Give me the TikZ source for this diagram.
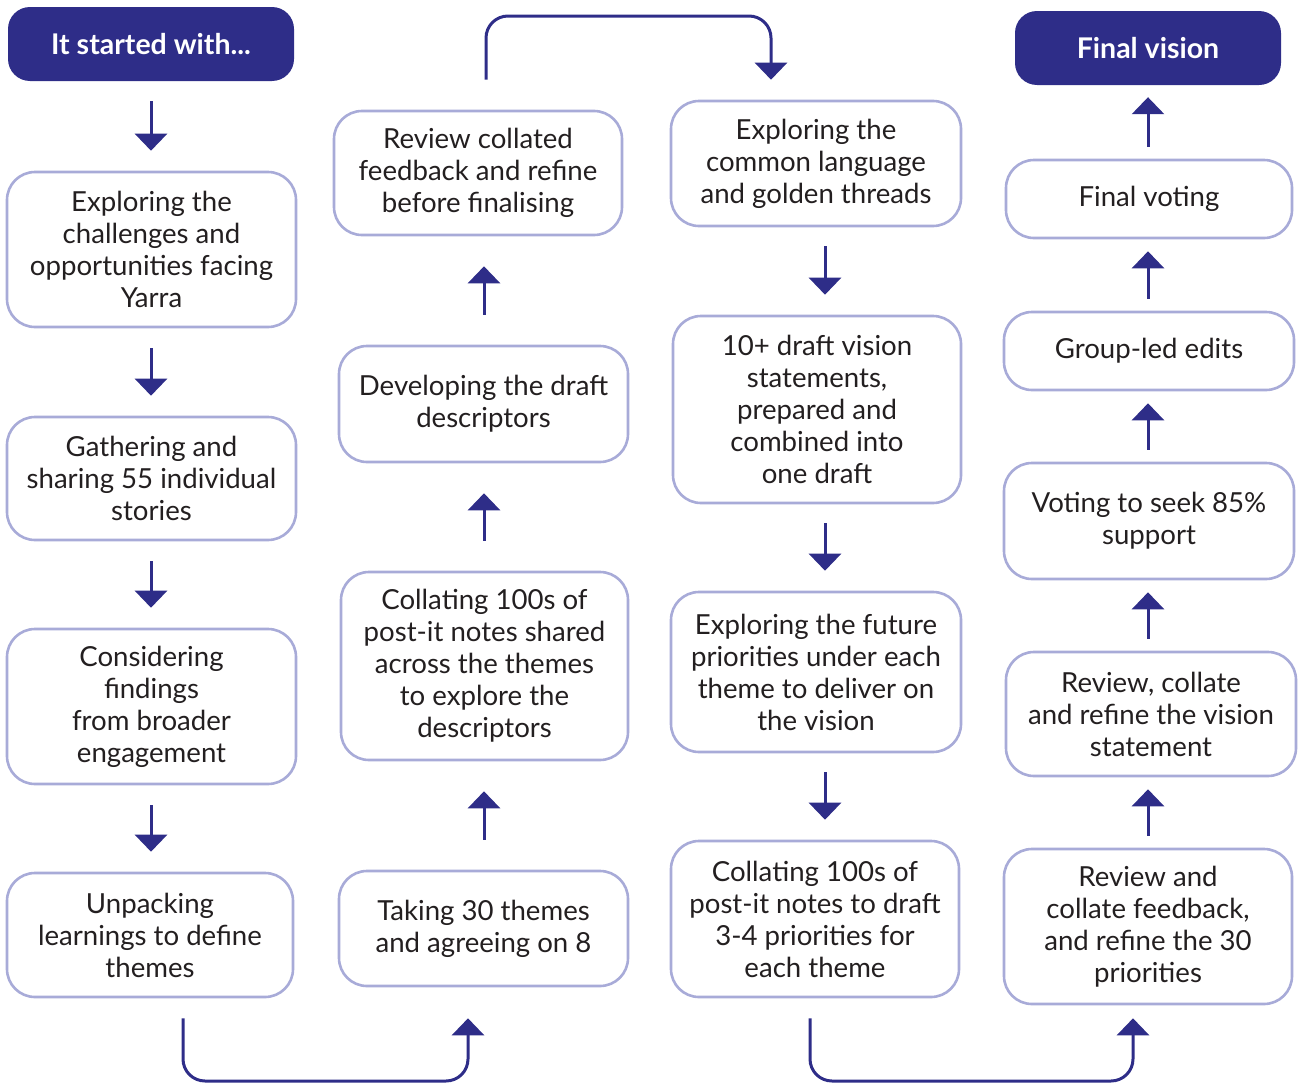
\documentclass[tikz,border=0pt]{standalone}
\usepackage{fontspec}
\setmainfont{Lato}
\usetikzlibrary{arrows.meta}
\definecolor{navy}{HTML}{2E2D88}
\definecolor{lav}{HTML}{A8ABD8}
\definecolor{txt}{HTML}{231F20}
\begin{document}
\begin{tikzpicture}[x=1pt,y=-1pt,
  box/.style={draw=lav, line width=2.6pt, rounded corners=28pt, fill=white,
    align=center, text=txt, inner sep=0pt,
    font=\fontsize{27.6}{32}\selectfont},
  head/.style={fill=navy, rounded corners=22pt, align=center, text=white,
    inner sep=0pt, font=\fontsize{28.5}{32}\selectfont\bfseries},
  arr/.style={draw=navy, line width=3pt, -{Triangle[width=32pt,length=17pt]}},
  loop/.style={arr, rounded corners=22pt}
]
\useasboundingbox (0,0) rectangle (1298,1084);
% column 1
\node[head, minimum width=286pt, minimum height=74pt] (h1) at (151,44) {It started with...};
\node[box, minimum width=289pt, minimum height=155pt] (a1) at (151.5,249.5) {Exploring the\\challenges and\\opportunities facing\\Yarra};
\node[box, minimum width=289pt, minimum height=123pt] (a2) at (151.5,478.5) {Gathering and\\sharing 55 individual\\stories};
\node[box, minimum width=289pt, minimum height=155pt] (a3) at (151.5,706.5) {Considering\\findings\\from broader\\engagement};
\node[box, minimum width=286pt, minimum height=124pt] (a4) at (150,935) {Unpacking\\learnings to define\\themes};
% column 2
\node[box, minimum width=289pt, minimum height=115pt] (b1) at (483.5,928.5) {Taking 30 themes\\and agreeing on 8};
\node[box, minimum width=287pt, minimum height=188pt] (b2) at (484.5,666) {Collating 100s of\\post-it notes shared\\across the themes\\to explore the\\descriptors};
\node[box, minimum width=289pt, minimum height=116pt] (b3) at (483.5,404) {Developing the draft\\descriptors};
\node[box, minimum width=288pt, minimum height=124pt] (b4) at (478,173) {Review collated\\feedback and refine\\before finalising};
% column 3
\node[box, minimum width=290pt, minimum height=125pt] (c1) at (816,163.5) {Exploring the\\common language\\and golden threads};
\node[box, minimum width=288pt, minimum height=187pt] (c2) at (817,409.5) {10+ draft vision\\statements,\\prepared and\\combined into\\one draft};
\node[box, minimum width=290pt, minimum height=160pt] (c3) at (816,672) {Exploring the future\\priorities under each\\theme to deliver on\\the vision};
\node[box, minimum width=288pt, minimum height=156pt] (c4) at (815,919) {Collating 100s of\\post-it notes to draft\\3-4 priorities for\\each theme};
% column 4
\node[box, minimum width=288pt, minimum height=155pt] (d1) at (1148,926.5) {Review and\\collate feedback,\\and refine the 30\\priorities};
\node[box, minimum width=290pt, minimum height=124pt] (d2) at (1151,714) {Review, collate\\and refine the vision\\statement};
\node[box, minimum width=290pt, minimum height=116pt] (d3) at (1149,521) {Voting to seek 85\%\\support};
\node[box, minimum width=290pt, minimum height=78pt] (d4) at (1149,351) {Group-led edits};
\node[box, minimum width=286pt, minimum height=78pt] (d5) at (1149,199) {Final voting};
\node[head, minimum width=266pt, minimum height=74pt] (h2) at (1148,48) {Final vision};
% arrow x positions
\coordinate (x1) at (151,0);
\coordinate (x2) at (484,0);
\coordinate (x3) at (825,0);
\coordinate (x4) at (1148,0);
% column 1 arrows
\foreach \p/\q in {h1/a1,a1/a2,a2/a3,a3/a4}
  \draw[arr, shorten <=20pt, shorten >=20pt] (\p.south -| x1) -- (\q.north -| x1);
% column 2 arrows
\foreach \p/\q in {b1/b2,b2/b3,b3/b4}
  \draw[arr, shorten <=30pt, shorten >=30pt] (\p.north -| x2) -- (\q.south -| x2);
% column 3 arrows
\foreach \p/\q in {c1/c2,c2/c3,c3/c4}
  \draw[arr, shorten <=19pt, shorten >=20pt] (\p.south -| x3) -- (\q.north -| x3);
% column 4 arrows
\foreach \p/\q in {d1/d2,d2/d3,d3/d4,d4/d5,d5/h2}
  \draw[arr, shorten <=12pt, shorten >=12pt] (\p.north -| x4) -- (\q.south -| x4);
% loop connectors
\coordinate (l1) at (183,1081);
\coordinate (l2) at (468,1081);
\draw[loop, shorten <=20pt, shorten >=31pt] (a4.south -| l1) -- (l1) -- (l2) -- (b1.south -| l2);
\coordinate (t1) at (486,16);
\coordinate (t2) at (771,16);
\draw[loop, shorten <=30pt, shorten >=20pt] (b4.north -| t1) -- (t1) -- (t2) -- (c1.north -| t2);
\coordinate (r1) at (810,1081);
\coordinate (r2) at (1133,1081);
\draw[loop, shorten <=20pt, shorten >=13pt] (c4.south -| r1) -- (r1) -- (r2) -- (d1.south -| r2);
\end{tikzpicture}
\end{document}
